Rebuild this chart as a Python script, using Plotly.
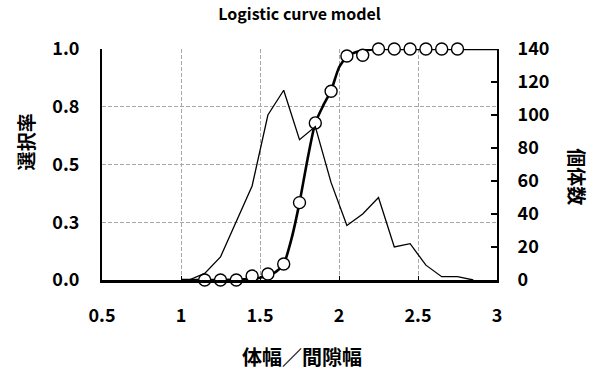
import plotly.graph_objects as go

# Observed selection rate (open circles)
obs_x = [1.15, 1.25, 1.35, 1.45, 1.55, 1.65, 1.75, 1.85, 1.95, 2.05, 2.15,
         2.25, 2.35, 2.45, 2.55, 2.65, 2.75]
obs_rate = [0.0, 0.0, 0.0, 0.017, 0.026, 0.069, 0.335, 0.68, 0.817, 0.97, 0.973,
            1.0, 1.0, 1.0, 1.0, 1.0, 1.0]

# Fitted logistic curve
curve_x = [1.0, 1.2, 1.4, 1.5, 1.55, 1.6, 1.65, 1.7, 1.75, 1.8, 1.85, 1.9, 1.95,
           2.0, 2.05, 2.1, 2.15, 2.2, 2.3, 2.5, 3.0]
curve_y = [0.0, 0.0, 0.003, 0.01, 0.02, 0.035, 0.069, 0.18, 0.335, 0.52, 0.68, 0.755,
           0.82, 0.92, 0.968, 0.985, 0.993, 0.997, 1.0, 1.0, 1.0]

# Number of individuals (thin line, right axis)
cnt_x = [1.05, 1.15, 1.25, 1.35, 1.45, 1.55, 1.65, 1.75, 1.85, 1.95, 2.05, 2.15,
         2.25, 2.35, 2.45, 2.55, 2.65, 2.75, 2.85]
cnt = [0, 4, 14, 36, 57, 100, 115, 85, 93, 59, 33, 40, 50, 20, 22, 9, 2, 2, 0]

x_ticks = [0.5, 1, 1.5, 2, 2.5, 3]
x_ticktext = ["0.5", "1", "1.5", "2", "2.5", "3"]
y_ticks = [0, 0.25, 0.5, 0.75, 1.0]
y_ticktext = ["0.0", "0.3", "0.5", "0.8", "1.0"]
y2_ticks = [0, 20, 40, 60, 80, 100, 120, 140]

title_text = "Logistic curve model"
x_title = "体幅／間隙幅"
y_title = "選択率"
y2_title = "個体数"

FONT = "Noto Sans CJK JP"
TICKFONT = dict(family=FONT, size=18, weight=700, color="black")
GRID = dict(showgrid=True, gridcolor="#a8a8a8", griddash="4px,2px", gridwidth=1)

fig = go.Figure()
fig.add_trace(go.Scatter(x=cnt_x, y=cnt, yaxis="y2", mode="lines",
                         line=dict(color="black", width=1.3), showlegend=False))
fig.add_trace(go.Scatter(x=curve_x, y=curve_y, mode="lines",
                         line=dict(color="black", width=2.6, shape="spline", smoothing=0.6),
                         showlegend=False))
fig.add_trace(go.Scatter(x=obs_x, y=obs_rate, mode="markers",
                         marker=dict(size=12, color="white", line=dict(color="black", width=1.4)),
                         showlegend=False, cliponaxis=False))

fig.update_layout(
    width=592, height=376,
    margin=dict(l=102, r=95, t=49, b=96),
    paper_bgcolor="white", plot_bgcolor="white",
    font=dict(family=FONT, size=15, color="black"),
    title=dict(text=title_text, x=0.506, xanchor="center", y=0.962, yanchor="middle",
               font=dict(family=FONT, size=16, weight=700, color="black")),
    xaxis=dict(range=[0.5, 3.0], tickvals=x_ticks, ticktext=x_ticktext, **GRID,
               showline=True, linecolor="black", linewidth=2.5,
               ticks="inside", ticklen=4, tickcolor="black",
               zeroline=False, ticklabelstandoff=18, tickfont=TICKFONT),
    yaxis=dict(range=[0, 1.0], tickvals=y_ticks, ticktext=y_ticktext, **GRID,
               showline=True, linecolor="black", linewidth=2,
               ticks="", zeroline=False, ticklabelstandoff=17, tickfont=TICKFONT),
    yaxis2=dict(range=[0, 140], tickvals=y2_ticks, overlaying="y", side="right",
                showgrid=False, showline=True, linecolor="black", linewidth=2,
                ticks="inside", ticklen=6, tickcolor="black", tickwidth=1.5,
                zeroline=False, ticklabelstandoff=15, tickfont=TICKFONT),
)

fig.add_annotation(text=x_title, xref="paper", yref="paper", x=0.506, y=-0.333,
                   xanchor="center", yanchor="middle", showarrow=False,
                   font=dict(family=FONT, size=20, weight=700))
fig.add_annotation(text=y_title, xref="paper", yref="paper", x=-0.195, y=0.6,
                   xanchor="center", yanchor="middle", showarrow=False, textangle=-90,
                   font=dict(family=FONT, size=19, weight=700))
fig.add_annotation(text=y2_title, xref="paper", yref="paper", x=1.205, y=0.445,
                   xanchor="center", yanchor="middle", showarrow=False, textangle=90,
                   font=dict(family=FONT, size=19, weight=700))

fig.write_html("out.html", post_script="document.body.style.margin='0';",
               config={"displayModeBar": False})
